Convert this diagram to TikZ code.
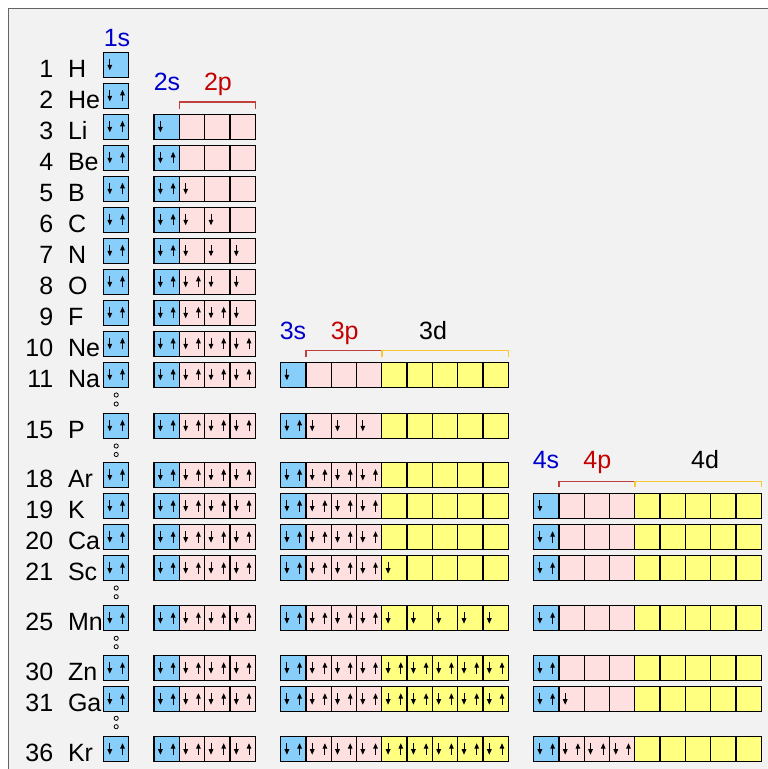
\documentclass[tikz,border=0pt]{standalone}
\usepackage{fontspec}
\setmainfont{Liberation Sans}
\usetikzlibrary{arrows.meta}
\definecolor{sblue}{RGB}{135,206,250}
\definecolor{ppink}{RGB}{255,224,224}
\definecolor{dyel}{RGB}{255,255,128}
\definecolor{bgc}{RGB}{242,242,242}
\definecolor{slab}{RGB}{0,0,204}
\definecolor{plab}{RGB}{196,0,0}
\definecolor{pbr}{RGB}{192,64,64}
\definecolor{dbr}{RGB}{250,200,50}
\definecolor{framec}{RGB}{100,100,100}
\newcommand\cw{25.3}
\newcommand\chh{25}
\newcommand\orb[4]{%
  \filldraw[cell, fill=#3] (#1,#2) rectangle ++(\cw,\chh);
  \ifnum#4>0 \draw[earrow] (#1+6.3,#2+6.5) -- (#1+6.3,#2+18);\fi
  \ifnum#4>1 \draw[earrow] (#1+19,#2+18) -- (#1+19,#2+6.5);\fi
}
\newcommand\shell[3]{\foreach[count=\i from 0] \oc/\on in {#3}{\orb{#2+\i*\cw}{#1}{\oc}{\on}}}
\newcommand\elem[3]{%
  \node[lab,anchor=base east] (num#1) at (53.5,#3+25) {#1};
  \node[lab,anchor=base west] (sym#1) at (67.8,#3+25) {#2};}
% column starts
\newcommand\xA{103.5}
\newcommand\xB{154.1}
\newcommand\xC{280.6}
\newcommand\xD{533.6}
\begin{document}
\begin{tikzpicture}[x=1pt,y=-1pt,
  cell/.style={draw=black,line width=1.3pt},
  earrow/.style={line width=1pt,-{Triangle[width=4.6pt,length=5.5pt]}},
  lab/.style={inner sep=0pt,font=\fontsize{25}{29}\selectfont},
  bracket/.style={line width=1.5pt},
  ring/.style={draw=black,line width=0.8pt}]
\useasboundingbox (0,0) rectangle (768,769);
\fill[white] (0,0) rectangle (768,769);
\fill[bgc] (8.5,8.5) rectangle (768,769);
\draw[framec,line width=1.5pt] (8.5,769) -- (8.5,8.5) -- (768,8.5);
% element labels
\elem{1}{H}{52.3}
\elem{2}{He}{83.3}
\elem{3}{Li}{114.3}
\elem{4}{Be}{145.3}
\elem{5}{B}{176.3}
\elem{6}{C}{207.3}
\elem{7}{N}{238.3}
\elem{8}{O}{269.3}
\elem{9}{F}{300.3}
\elem{10}{Ne}{331.3}
\elem{11}{Na}{362.3}
\elem{15}{P}{413.3}
\elem{18}{Ar}{462.5}
\elem{19}{K}{493.5}
\elem{20}{Ca}{524.7}
\elem{21}{Sc}{555.7}
\elem{25}{Mn}{605.7}
\elem{30}{Zn}{655.7}
\elem{31}{Ga}{686.7}
\elem{36}{Kr}{736.7}
% subshell headers
\node[lab,anchor=base,text=slab] (h1s) at (117,46) {1s};
\node[lab,anchor=base,text=slab] (h2s) at (167,90) {2s};
\node[lab,anchor=base,text=plab] (h2p) at (218,90) {2p};
\node[lab,anchor=base,text=slab] (h3s) at (293,339) {3s};
\node[lab,anchor=base,text=plab] (h3p) at (344.7,339) {3p};
\node[lab,anchor=base] (h3d) at (433,339) {3d};
\node[lab,anchor=base,text=slab] (h4s) at (546,468.3) {4s};
\node[lab,anchor=base,text=plab] (h4p) at (597.3,468.3) {4p};
\node[lab,anchor=base] (h4d) at (705,468.3) {4d};
% brackets
\draw[bracket,pbr] (179.4,108.5) -- (179.4,102) -- (255.3,102) -- (255.3,108.5);
\draw[bracket,pbr] (305.9,357) -- (305.9,350.7) -- (381.8,350.7) -- (381.8,357);
\draw[bracket,dbr] (381.8,357) -- (381.8,350.7) -- (508.3,350.7) -- (508.3,357);
\draw[bracket,pbr] (558.9,487) -- (558.9,481.7) -- (634.8,481.7) -- (634.8,487);
\draw[bracket,dbr] (634.8,487) -- (634.8,481.7) -- (761.3,481.7) -- (761.3,487);
% 1s column
\orb{\xA}{52.3}{sblue}{1}
\foreach \y in {83.3,114.3,145.3,176.3,207.3,238.3,269.3,300.3,331.3,362.3,413.3,462.5,493.5,524.7,555.7,605.7,655.7,686.7,736.7}{\orb{\xA}{\y}{sblue}{2}}
% dots
\foreach \y in {395,404,446,454.5,588,596.7,638.3,646.7,718.3,726.7}{\draw[ring] (116.2,\y) circle (2.1);}
% shell 2
\shell{114.3}{\xB}{sblue/1,ppink/0,ppink/0,ppink/0}
\shell{145.3}{\xB}{sblue/2,ppink/0,ppink/0,ppink/0}
\shell{176.3}{\xB}{sblue/2,ppink/1,ppink/0,ppink/0}
\shell{207.3}{\xB}{sblue/2,ppink/1,ppink/1,ppink/0}
\shell{238.3}{\xB}{sblue/2,ppink/1,ppink/1,ppink/1}
\shell{269.3}{\xB}{sblue/2,ppink/2,ppink/1,ppink/1}
\shell{300.3}{\xB}{sblue/2,ppink/2,ppink/2,ppink/1}
\foreach \y in {331.3,362.3,413.3,462.5,493.5,524.7,555.7,605.7,655.7,686.7,736.7}{\shell{\y}{\xB}{sblue/2,ppink/2,ppink/2,ppink/2}}
% shell 3
\shell{362.3}{\xC}{sblue/1,ppink/0,ppink/0,ppink/0,dyel/0,dyel/0,dyel/0,dyel/0,dyel/0}
\shell{413.3}{\xC}{sblue/2,ppink/1,ppink/1,ppink/1,dyel/0,dyel/0,dyel/0,dyel/0,dyel/0}
\foreach \y in {462.5,493.5,524.7}{\shell{\y}{\xC}{sblue/2,ppink/2,ppink/2,ppink/2,dyel/0,dyel/0,dyel/0,dyel/0,dyel/0}}
\shell{555.7}{\xC}{sblue/2,ppink/2,ppink/2,ppink/2,dyel/1,dyel/0,dyel/0,dyel/0,dyel/0}
\shell{605.7}{\xC}{sblue/2,ppink/2,ppink/2,ppink/2,dyel/1,dyel/1,dyel/1,dyel/1,dyel/1}
\foreach \y in {655.7,686.7,736.7}{\shell{\y}{\xC}{sblue/2,ppink/2,ppink/2,ppink/2,dyel/2,dyel/2,dyel/2,dyel/2,dyel/2}}
% shell 4
\shell{493.5}{\xD}{sblue/1,ppink/0,ppink/0,ppink/0,dyel/0,dyel/0,dyel/0,dyel/0,dyel/0}
\foreach \y in {524.7,555.7,605.7,655.7}{\shell{\y}{\xD}{sblue/2,ppink/0,ppink/0,ppink/0,dyel/0,dyel/0,dyel/0,dyel/0,dyel/0}}
\shell{686.7}{\xD}{sblue/2,ppink/1,ppink/0,ppink/0,dyel/0,dyel/0,dyel/0,dyel/0,dyel/0}
\shell{736.7}{\xD}{sblue/2,ppink/2,ppink/2,ppink/2,dyel/0,dyel/0,dyel/0,dyel/0,dyel/0}
\end{tikzpicture}
\end{document}
